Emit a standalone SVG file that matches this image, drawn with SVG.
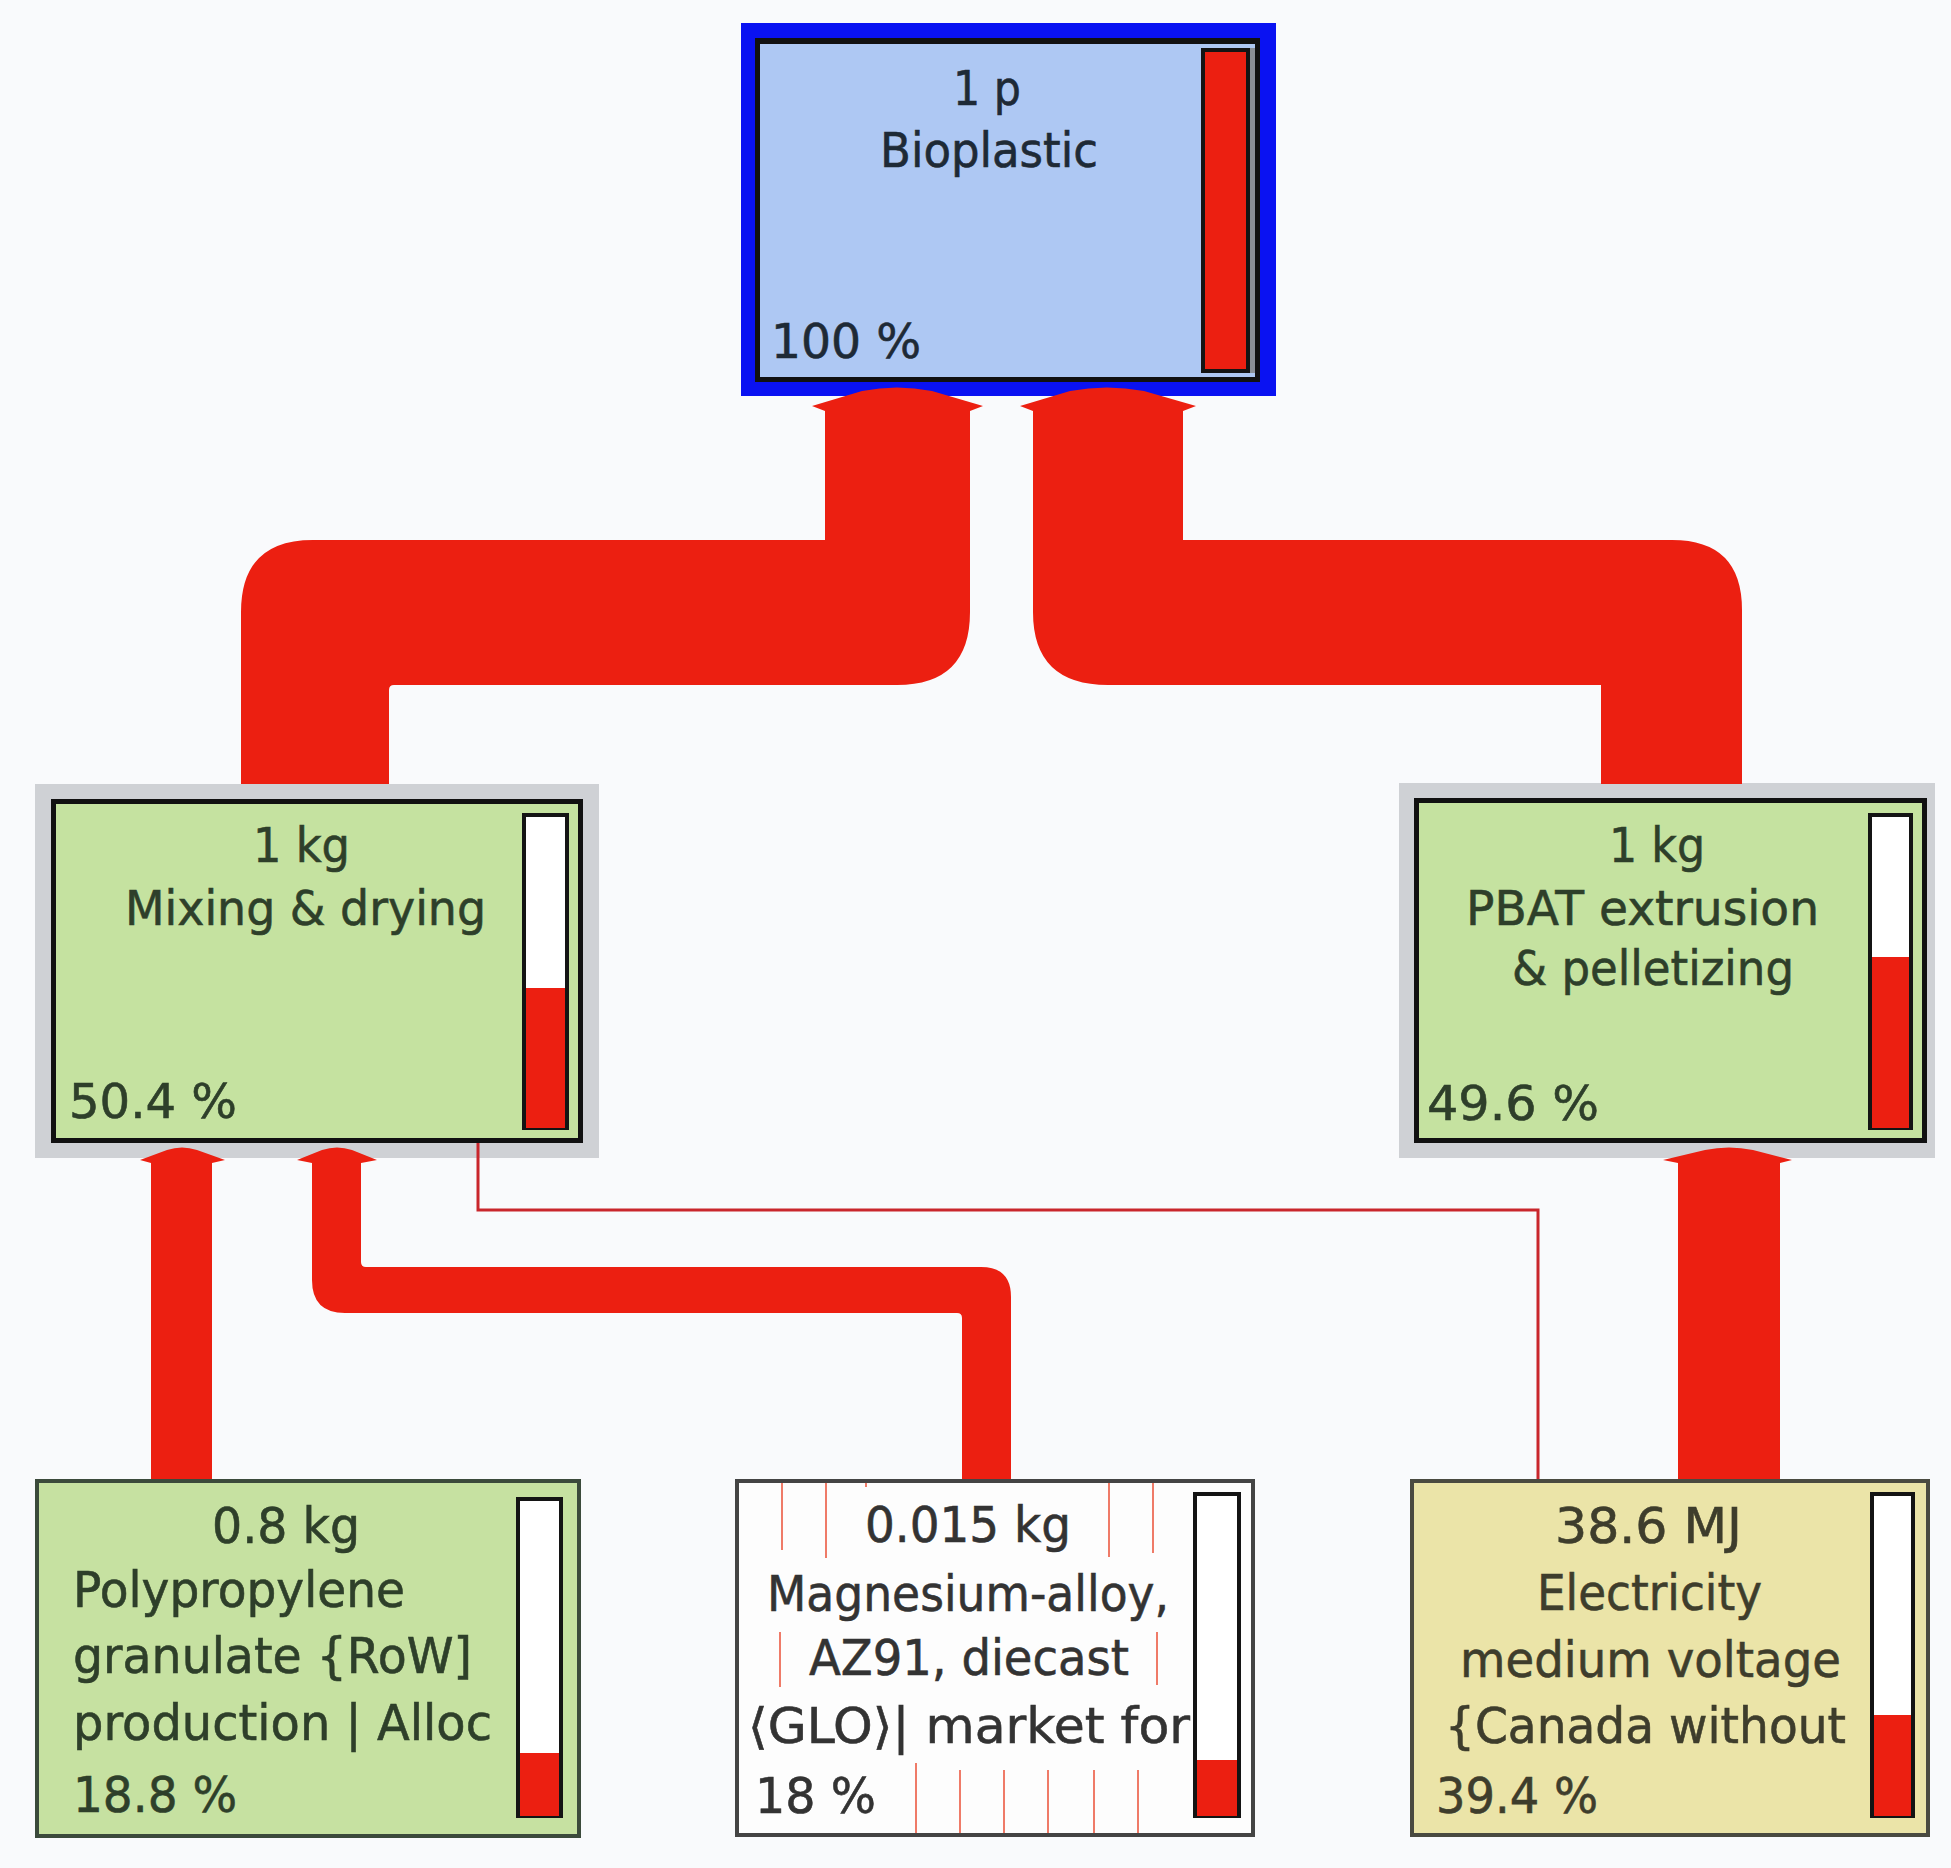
<svg xmlns="http://www.w3.org/2000/svg" width="1951" height="1868" viewBox="0 0 1951 1868">
<style>
.t{font-family:'DejaVu Sans',Verdana,sans-serif;font-size:48px;stroke-width:0.6px;}
.tb{font-family:'DejaVu Sans',Verdana,sans-serif;font-size:49px;stroke-width:0.6px;}
.cb{fill:#1e2a36;stroke:#1e2a36}
.cg{fill:#2e3f2a;stroke:#2e3f2a}
.cw{fill:#333333;stroke:#333333}
.cy{fill:#3e3d2c;stroke:#3e3d2c}
.pipe{fill:#ec1f11}
.bar{fill:#ffffff;stroke:#141414;stroke-width:4}
.barr{fill:#ec1f11}
.hatch{stroke:#ef7b68;stroke-width:2}
</style>
<rect width="1951" height="1868" fill="#f9fafc"/>

<g id="node-bioplastic">
<rect x="741" y="23" width="535" height="373" fill="#0a12f2"/>
<rect x="755" y="38" width="505" height="344" fill="#111111"/>
<rect x="760" y="44" width="495" height="333" fill="#aec8f3"/>
<rect x="1203" y="50" width="45" height="321" fill="#ec1f11" stroke="#141414" stroke-width="4"/>
<rect x="1250" y="48" width="5" height="325" fill="#8a8f96"/>
<text class="t cb" x="953" y="105" textLength="68" lengthAdjust="spacingAndGlyphs">1 p</text>
<text class="t cb" x="880" y="167" textLength="218" lengthAdjust="spacingAndGlyphs">Bioplastic</text>
<text class="t cb" x="771" y="358" textLength="150" lengthAdjust="spacingAndGlyphs">100 %</text>
</g>

<g id="node-mixing">
<rect x="35" y="784" width="564" height="374" fill="#cfd1d5"/>
<rect x="53.5" y="801.5" width="527" height="339" fill="#c5e2a0" stroke="#111111" stroke-width="5"/>
<rect class="bar" x="524" y="815" width="43" height="313"/>
<rect class="barr" x="526" y="988" width="39" height="140"/>
<text class="t cg" x="253" y="862" textLength="97" lengthAdjust="spacingAndGlyphs">1 kg</text>
<text class="t cg" x="125" y="925" textLength="361" lengthAdjust="spacingAndGlyphs">Mixing &amp; drying</text>
<text class="t cg" x="69" y="1118" textLength="168" lengthAdjust="spacingAndGlyphs">50.4 %</text>
</g>

<g id="node-pbat">
<rect x="1399" y="783" width="536" height="375" fill="#cfd1d5"/>
<rect x="1416.5" y="800.5" width="508" height="340" fill="#c5e2a0" stroke="#111111" stroke-width="5"/>
<rect class="bar" x="1870" y="815" width="41" height="313"/>
<rect class="barr" x="1872" y="957" width="37" height="171"/>
<text class="t cg" x="1609" y="862" textLength="96" lengthAdjust="spacingAndGlyphs">1 kg</text>
<text class="t cg" x="1466" y="925" textLength="353" lengthAdjust="spacingAndGlyphs">PBAT extrusion</text>
<text class="t cg" x="1512" y="985" textLength="282" lengthAdjust="spacingAndGlyphs">&amp; pelletizing</text>
<text class="t cg" x="1427" y="1120" textLength="172" lengthAdjust="spacingAndGlyphs">49.6 %</text>
</g>

<g id="node-polypropylene">
<rect x="37" y="1481" width="542" height="355" fill="#c6e1a1" stroke="#3b4a3b" stroke-width="4"/>
<rect class="bar" x="518" y="1499" width="43" height="317"/>
<rect class="barr" x="520" y="1753" width="39" height="63"/>
<text class="tb cg" x="212" y="1543" textLength="148" lengthAdjust="spacingAndGlyphs">0.8 kg</text>
<text class="tb cg" x="73" y="1607" textLength="332" lengthAdjust="spacingAndGlyphs">Polypropylene</text>
<text class="tb cg" x="73" y="1673" textLength="399" lengthAdjust="spacingAndGlyphs">granulate {RoW]</text>
<text class="tb cg" x="73" y="1740" textLength="419" lengthAdjust="spacingAndGlyphs">production | Alloc</text>
<text class="tb cg" x="73" y="1812" textLength="164" lengthAdjust="spacingAndGlyphs">18.8 %</text>
</g>

<g id="node-magnesium">
<rect x="737" y="1481" width="516" height="354" fill="#fdfdfd" stroke="#444444" stroke-width="4"/>
<g class="hatch">
<line x1="782" y1="1483" x2="782" y2="1550"/>
<line x1="826" y1="1483" x2="826" y2="1558"/>
<line x1="866" y1="1483" x2="866" y2="1487"/>
<line x1="1109" y1="1483" x2="1109" y2="1557"/>
<line x1="1153" y1="1483" x2="1153" y2="1553"/>
<line x1="780" y1="1632" x2="780" y2="1687"/>
<line x1="1157" y1="1632" x2="1157" y2="1685"/>
<line x1="916" y1="1763" x2="916" y2="1833"/>
<line x1="960" y1="1770" x2="960" y2="1833"/>
<line x1="1004" y1="1770" x2="1004" y2="1833"/>
<line x1="1048" y1="1770" x2="1048" y2="1833"/>
<line x1="1094" y1="1770" x2="1094" y2="1833"/>
<line x1="1138" y1="1770" x2="1138" y2="1833"/>
</g>
<rect class="bar" x="1195" y="1494" width="44" height="322"/>
<rect class="barr" x="1197" y="1760" width="40" height="56"/>
<text class="tb cw" x="865" y="1542" textLength="206" lengthAdjust="spacingAndGlyphs">0.015 kg</text>
<text class="tb cw" x="767" y="1611" textLength="402" lengthAdjust="spacingAndGlyphs">Magnesium-alloy,</text>
<text class="tb cw" x="809" y="1675" textLength="320" lengthAdjust="spacingAndGlyphs">AZ91, diecast</text>
<text class="tb cw" x="748" y="1743" textLength="442" lengthAdjust="spacingAndGlyphs">⟨GLO⟩| market for</text>
<text class="tb cw" x="755" y="1813" textLength="121" lengthAdjust="spacingAndGlyphs">18 %</text>
</g>

<g id="node-electricity">
<rect x="1412" y="1481" width="516" height="354" fill="#ebe4a8" stroke="#4a4a40" stroke-width="4"/>
<rect class="bar" x="1872" y="1494" width="41" height="322"/>
<rect class="barr" x="1874" y="1715" width="37" height="101"/>
<text class="tb cy" x="1555" y="1543" textLength="187" lengthAdjust="spacingAndGlyphs">38.6 MJ</text>
<text class="tb cy" x="1537" y="1610" textLength="225" lengthAdjust="spacingAndGlyphs">Electricity</text>
<text class="tb cy" x="1460" y="1677" textLength="381" lengthAdjust="spacingAndGlyphs">medium voltage</text>
<text class="tb cy" x="1445" y="1743" textLength="401" lengthAdjust="spacingAndGlyphs">{Canada without</text>
<text class="tb cy" x="1436" y="1813" textLength="162" lengthAdjust="spacingAndGlyphs">39.4 %</text>
</g>

<g id="connectors">
<path id="c-mixing-bioplastic" class="pipe" d="M241,784 L241,612 Q241,540 313,540 L825,540 L825,411 L812,406 L862,391 Q897,384 932,391 L983,406 L970,411 L970,612 Q970,685 897,685 L394,685 Q389,685 389,690 L389,784 Z"/>
<path id="c-pbat-bioplastic" class="pipe" d="M1601,784 L1601,685 L1108,685 Q1033,685 1033,612 L1033,411 L1020,406 L1070,391 Q1107,384 1144,391 L1196,406 L1183,411 L1183,540 L1672,540 Q1742,540 1742,610 L1742,784 Z"/>
<path id="c-pp-mixing" class="pipe" d="M151,1479 L151,1163 L140,1160 L167,1150 Q182,1145 197,1150 L225,1160 L212,1163 L212,1479 Z"/>
<path id="c-mg-mixing" class="pipe" d="M962,1479 L962,1318 Q962,1313 957,1313 L345,1313 Q312,1313 312,1280 L312,1163 L297,1160 L322,1150 Q337,1145 352,1150 L377,1160 L361,1163 L361,1262 Q361,1267 366,1267 L981,1267 Q1011,1267 1011,1297 L1011,1479 Z"/>
<path id="c-elec-pbat" class="pipe" d="M1678,1479 L1678,1163 L1663,1160 L1705,1150 Q1729,1145 1753,1150 L1792,1160 L1780,1163 L1780,1479 Z"/>
<polyline id="c-elec-mixing" points="478,1143 478,1210 1538,1210 1538,1479" fill="none" stroke="#c9262c" stroke-width="3"/>
</g>
</svg>
